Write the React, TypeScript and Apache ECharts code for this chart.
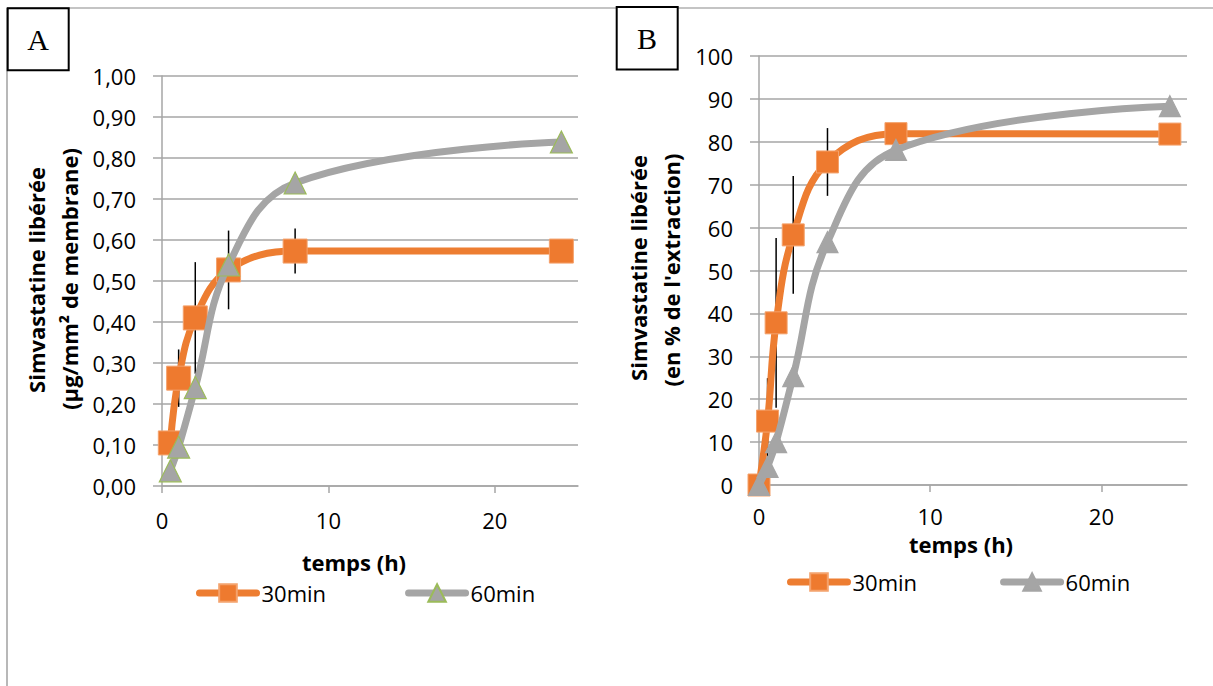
import React, { useEffect, useRef } from 'react';
import * as echarts from 'echarts';

// Chart A: µg/mm² of membrane
const timesA = [0.5, 1, 2, 4, 8, 24];
const a30 = [0.105, 0.263, 0.41, 0.527, 0.573, 0.573];
const a30Err = [0, 0.07, 0.136, 0.096, 0.055, 0];
const a60 = [0.037, 0.095, 0.24, 0.539, 0.739, 0.839];

// Chart B: % of extraction
const timesB = [0, 0.5, 1, 2, 4, 8, 24];
const b30 = [0, 14.9, 37.8, 58.3, 75.3, 81.9, 81.8];
const b30Err = [0, 10, 19.8, 13.7, 7.9, 0, 0];
const b60 = [0, 4.2, 10.0, 25.4, 56.6, 78.1, 88.3];

const xTicks = [0, 10, 20];
const seriesNames = ['30min', '60min'];
const yTitleA = ['Simvastatine libérée', '(µg/mm² de membrane)'];
const yTitleB = ['Simvastatine libérée', "(en % de l'extraction)"];
const xTitle = 'temps (h)';

const FONT = "'Open Sans', 'Noto Sans', sans-serif";
const GRID_C = '#A6A6A6';
const ORANGE = '#ED7D31';
const GRAY = '#A5A5A5';

function pairs(xs: number[], ys: number[]) {
  return xs.map((x, i) => [x, ys[i]]);
}
function errData(xs: number[], ys: number[], es: number[]) {
  return xs.map((x, i) => [x, ys[i], es[i]]);
}

function makeXAxis(gridIndex: number, margin: number) {
  return {
    type: 'value',
    gridIndex,
    min: 0,
    max: 25,
    interval: 10,
    axisLine: { show: true, lineStyle: { color: GRID_C, width: 1.5 } },
    axisTick: { show: true, length: 7, customValues: xTicks, lineStyle: { color: GRID_C, width: 1.5 } },
    axisLabel: { customValues: xTicks, fontSize: 22, lineHeight: 22, fontFamily: FONT, color: '#000', margin },
    splitLine: { show: false },
  };
}

function makeYAxis(gridIndex: number, max: number, interval: number, fmt: (v: number) => string) {
  return {
    type: 'value',
    gridIndex,
    min: 0,
    max,
    interval,
    axisLine: { show: true, lineStyle: { color: GRID_C, width: 1.5 } },
    axisTick: { show: true, length: 9, lineStyle: { color: GRID_C, width: 1.5 } },
    axisLabel: { fontSize: 22, fontFamily: FONT, color: '#000', margin: 26, formatter: fmt },
    splitLine: { show: true, lineStyle: { color: GRID_C, width: 1.5 } },
  };
}

function errSeries(idx: number, data: number[][]) {
  return {
    type: 'custom',
    xAxisIndex: idx,
    yAxisIndex: idx,
    z: 1,
    clip: false,
    encode: { x: 0, y: 1 },
    data,
    renderItem: (params: any, api: any) => {
      const x = api.value(0);
      const y = api.value(1);
      const e = api.value(2);
      if (!e) return null;
      const p1 = api.coord([x, y + e]);
      const p2 = api.coord([x, y - e]);
      return {
        type: 'line',
        shape: { x1: p1[0], y1: p1[1], x2: p2[0], y2: p2[1] },
        style: { stroke: '#000', lineWidth: 1.5 },
      };
    },
  };
}

function lineSeries(idx: number, name: string, data: number[][], kind: 'sq' | 'tri', triBorder: string, symSize: number) {
  const isSq = kind === 'sq';
  return {
    type: 'line',
    name,
    xAxisIndex: idx,
    yAxisIndex: idx,
    data,
    smooth: 0.4,
    z: isSq ? 2 : 3,
    symbol: isSq ? 'rect' : 'triangle',
    symbolSize: symSize,
    lineStyle: { color: isSq ? ORANGE : GRAY, width: 7, cap: 'round' },
    itemStyle: isSq
      ? { color: '#EE7A2F', borderColor: '#F4A26C', borderWidth: 1 }
      : { color: GRAY, borderColor: triBorder, borderWidth: 1.2 },
  };
}

function textEl(text: string, x: number, y: number, size: number, bold: boolean, rotate = 0, family = FONT) {
  return {
    type: 'text',
    x,
    y,
    rotation: rotate,
    style: {
      text,
      fontSize: size,
      lineHeight: size,
      fontWeight: bold ? 'bold' : 'normal',
      fontFamily: family,
      fill: '#000',
      align: 'center',
      verticalAlign: 'middle',
    },
  };
}

export default function App() {
  const ref = useRef<HTMLDivElement>(null);
  useEffect(() => {
    if (!ref.current) return;
    const chart = echarts.init(ref.current, null, { renderer: 'svg' });
    const fmtA = (v: number) => v.toFixed(2).replace('.', ',');
    const fmtB = (v: number) => String(v);
    const legendBase = {
      padding: 0,
      itemWidth: 57,
      itemHeight: 22,
      lineStyle: { width: 7, cap: 'round' },
      textStyle: { fontSize: 22, fontFamily: FONT, color: '#000' },
    };
    chart.setOption({
      animation: false,
      backgroundColor: '#fff',
      grid: [
        { left: 162, top: 76, width: 416, height: 410 },
        { left: 759, top: 56, width: 428, height: 429 },
      ],
      xAxis: [makeXAxis(0, 23), makeXAxis(1, 20)],
      yAxis: [makeYAxis(0, 1, 0.1, fmtA), makeYAxis(1, 100, 10, fmtB)],
      legend: [
        { ...legendBase, left: 196, top: 582, itemGap: 79, data: seriesNames },
        {
          ...legendBase,
          left: 787,
          top: 571,
          itemGap: 83,
          data: [seriesNames[0], { name: seriesNames[1], itemStyle: { borderColor: GRAY } }],
        },
      ],
      series: [
        errSeries(0, errData(timesA, a30, a30Err)),
        lineSeries(0, seriesNames[0], pairs(timesA, a30), 'sq', '', 24),
        lineSeries(0, seriesNames[1], pairs(timesA, a60), 'tri', '#9BBB59', 22),
        errSeries(1, errData(timesB, b30, b30Err)),
        lineSeries(1, seriesNames[0], pairs(timesB, b30), 'sq', '', 22),
        lineSeries(1, seriesNames[1], pairs(timesB, b60), 'tri', GRAY, 21),
      ],
      graphic: [
        { type: 'line', shape: { x1: 7, y1: 8, x2: 1213, y2: 8 }, style: { stroke: '#B0B0B0', lineWidth: 1.5 } },
        { type: 'line', shape: { x1: 7, y1: 8, x2: 7, y2: 686 }, style: { stroke: '#A0A0A0', lineWidth: 1.5 } },
        { type: 'rect', shape: { x: 7.7, y: 8.3, width: 61, height: 62 }, style: { fill: '#fff', stroke: '#000', lineWidth: 2 } },
        { type: 'rect', shape: { x: 616.7, y: 7, width: 61, height: 62.5 }, style: { fill: '#fff', stroke: '#000', lineWidth: 2 } },
        textEl('A', 38, 39, 30, false, 0, "'Liberation Serif', 'DejaVu Serif', serif"),
        textEl('B', 647, 38, 30, false, 0, "'Liberation Serif', 'DejaVu Serif', serif"),
        textEl(yTitleA[0], 36, 280, 22, true, Math.PI / 2),
        textEl(yTitleA[1], 68.5, 279, 22, true, Math.PI / 2),
        textEl(yTitleB[0], 638, 268, 22, true, Math.PI / 2),
        textEl(yTitleB[1], 671, 270, 22, true, Math.PI / 2),
        textEl(xTitle, 354, 562, 22, true),
        textEl(xTitle, 961, 544, 22, true),
      ],
    });
    return () => chart.dispose();
  }, []);
  return (
    <div
      ref={ref}
      style={{ position: 'absolute', left: 0, top: 0, width: 1213, height: 686, background: '#fff' }}
    />
  );
}
